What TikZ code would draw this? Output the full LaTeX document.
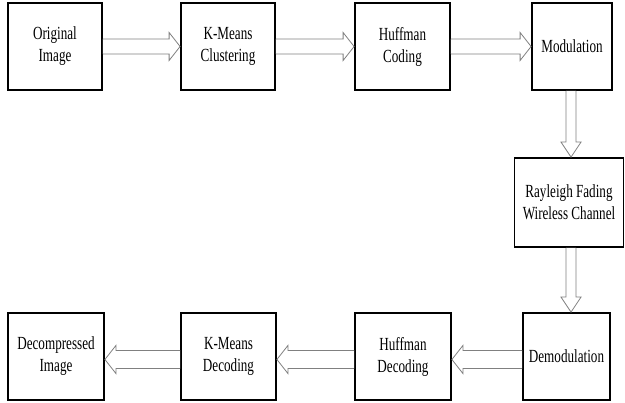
\documentclass[tikz,border=0pt]{standalone}
\usepackage{fontspec}
\setmainfont{Liberation Serif}[FakeStretch=0.71]
\usetikzlibrary{calc}
\tikzset{
  blk/.style={draw=black, line width=1.8pt, inner sep=0pt, align=center,
    font=\fontsize{18.5}{22}\selectfont},
  arr/.style={draw=black!50, line width=0.8pt, fill=white}
}
\newcommand{\harr}[2]{% left-to-right from #1 to #2
  \draw[arr] let \p1=(#1.east), \p2=(#2.west) in
    (\x1,\y1-7.5) -- (\x2-11,\y1-7.5) -- (\x2-11,\y1-14) -- (\x2,\y1)
    -- (\x2-11,\y1+14) -- (\x2-11,\y1+7.5) -- (\x1,\y1+7.5);}
\newcommand{\larr}[2]{% right-to-left from #1 to #2
  \draw[arr] let \p1=(#1.west), \p2=(#2.east) in
    (\x1,\y1-12) -- (\x2+11,\y1-12) -- (\x2+11,\y1-17) -- (\x2,\y1-3)
    -- (\x2+11,\y1+11) -- (\x2+11,\y1+6) -- (\x1,\y1+6);}
\newcommand{\varr}[3]{% downward from #1 to #2 at x = #3
  \draw[arr] let \p1=(#1.south), \p2=(#2.north) in
    (#3-5,\y1) -- (#3-5,\y2+15) -- (#3-10,\y2+15) -- (#3,\y2)
    -- (#3+10,\y2+15) -- (#3+5,\y2+15) -- (#3+5,\y1);}
\begin{document}
\begin{tikzpicture}[x=1pt,y=1pt]
\useasboundingbox (0,0) rectangle (625,-403);
% top row
\node[blk, minimum width=94pt, minimum height=87pt] (oi) at (55,-46.5) {Original\\Image};
\node[blk, minimum width=94pt, minimum height=87pt] (km) at (228,-46.5) {K-Means\\Clustering};
\node[blk, minimum width=95pt, minimum height=87pt] (hc) at (402.5,-46.5) {Huffman\\Coding};
\node[blk, minimum width=80pt, minimum height=87pt] (mo) at (572,-46.5) {Modulation};
% channel
\node[blk, minimum width=109pt, minimum height=89pt] (ch) at (569,-202.5) {Rayleigh Fading\\Wireless Channel};
% bottom row
\node[blk, minimum width=87pt, minimum height=87pt] (de) at (566.5,-356.5) {Demodulation};
\node[blk, minimum width=96pt, minimum height=87pt] (hd) at (403,-356.5) {Huffman\\Decoding};
\node[blk, minimum width=95pt, minimum height=87pt] (kd) at (228.5,-356.5) {K-Means\\Decoding};
\node[blk, minimum width=96pt, minimum height=87pt] (di) at (56,-356.5) {Decompressed\\Image};
% arrows
\harr{oi}{km}
\harr{km}{hc}
\harr{hc}{mo}
\varr{mo}{ch}{571}
\varr{ch}{de}{571}
\larr{de}{hd}
\larr{hd}{kd}
\larr{kd}{di}
\end{tikzpicture}
\end{document}
